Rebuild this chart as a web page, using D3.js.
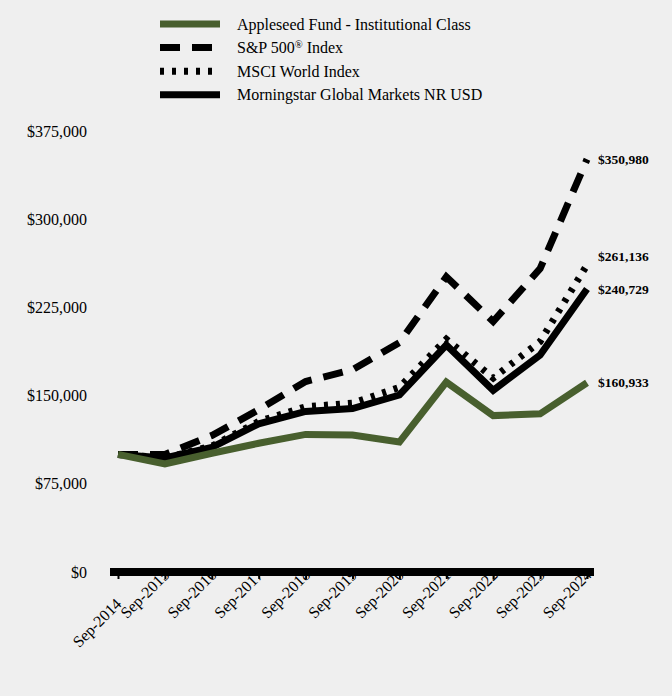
<!DOCTYPE html>
<html>
<head>
<meta charset="utf-8">
<script src="https://cdn.jsdelivr.net/npm/d3@7/dist/d3.min.js"></script>
<style>
  html, body { margin: 0; padding: 0; background: #efefef; }
  svg { display: block; }
  text { font-family: "Liberation Serif", "Times New Roman", serif; fill: #000; }
</style>
</head>
<body>
<svg id="chart" width="672" height="696"></svg>
<script>
const years = ["Sep-2014","Sep-2015","Sep-2016","Sep-2017","Sep-2018","Sep-2019","Sep-2020","Sep-2021","Sep-2022","Sep-2023","Sep-2024"];
const appleseed = [100000, 92000, 101000, 109500, 117000, 116500, 110500, 161500, 133000, 134500, 160933];
const sp500 = [100000, 100000, 116000, 138000, 162000, 172000, 195000, 251000, 213000, 258000, 350980];
const msci = [100000, 97000, 107000, 128000, 140500, 143500, 157000, 198000, 165000, 196000, 261136];
const morningstar = [100000, 97000, 106000, 126000, 136500, 139000, 150500, 193000, 154500, 184500, 240729];
const yTicks = [0, 75000, 150000, 225000, 300000, 375000];
const seriesNames = ["Appleseed Fund - Institutional Class", "S&P 500", "MSCI World Index", "Morningstar Global Markets NR USD"];
const endLabels = ["$160,933", "$350,980", "$261,136", "$240,729"];

const green = "#485f2e";
const series = [
  {name: seriesNames[3], values: morningstar, color: "#000", dash: null, label: endLabels[3], labelDy: 0},
  {name: seriesNames[2], values: msci, color: "#000", dash: "4,8", label: endLabels[2], labelDy: -9},
  {name: seriesNames[1], values: sp500, color: "#000", dash: "20,12", label: endLabels[1], labelDy: 0},
  {name: seriesNames[0], values: appleseed, color: green, dash: null, label: endLabels[0], labelDy: 0}
];

const svg = d3.select("#chart");
const x = d3.scalePoint().domain(years).range([118, 587]);
const y = d3.scaleLinear().domain([0, 375000]).range([572, 131]);

// y axis labels
const yAxis = d3.axisLeft(y).tickValues(yTicks).tickSize(0).tickPadding(0)
  .tickFormat(d => "$" + d3.format(",")(d));
const gy = svg.append("g").attr("transform", "translate(87,0)").call(yAxis);
gy.select(".domain").remove();
gy.selectAll("text").attr("font-size", 16).attr("font-family", "Liberation Serif, serif").attr("dy", "0.32em");

// x axis
const xAxis = d3.axisBottom(x).tickSize(7).tickPadding(0);
const gx = svg.append("g").attr("transform", "translate(0,572)").call(xAxis);
gx.select(".domain").remove();
gx.selectAll(".tick line").attr("stroke", "#000").attr("stroke-width", 2);
gx.selectAll(".tick text")
  .attr("font-size", 16)
  .attr("font-family", "Liberation Serif, serif")
  .attr("text-anchor", "end")
  .attr("dy", null)
  .attr("y", 0)
  .attr("transform", (d, i) => i === 0 ? "translate(4,33) rotate(-45)" : "translate(5,4) rotate(-45)");
// axis bar on top of labels
svg.append("line")
  .attr("x1", x(years[0]) - 8).attr("x2", x(years[years.length - 1]) + 7)
  .attr("y1", y(0)).attr("y2", y(0))
  .attr("stroke", "#000").attr("stroke-width", 8);

// lines
const line = d3.line().x((d, i) => x(years[i])).y(d => y(d));
svg.append("g").selectAll("path").data(series).join("path")
  .attr("d", d => line(d.values))
  .attr("fill", "none")
  .attr("stroke", d => d.color)
  .attr("stroke-width", 7)
  .attr("stroke-linejoin", "miter")
  .attr("stroke-dasharray", d => d.dash);

// end labels
svg.append("g").selectAll("text").data(series).join("text")
  .attr("x", 598)
  .attr("y", d => y(d.values[d.values.length - 1]) + d.labelDy)
  .attr("dy", "0.35em")
  .attr("font-size", 13.5)
  .attr("font-weight", "bold")
  .text(d => d.label);

// legend
const legendItems = [series[3], series[2], series[1], series[0]];
const lg = svg.append("g");
legendItems.forEach((s, i) => {
  const yy = 24 + i * 23.6;
  lg.append("line")
    .attr("x1", 160).attr("x2", 220).attr("y1", yy).attr("y2", yy)
    .attr("stroke", s.color).attr("stroke-width", 7)
    .attr("stroke-dasharray", s.dash);
  const t = lg.append("text").attr("x", 237).attr("y", yy).attr("dy", "0.35em").attr("font-size", 16);
  if (s.name === "S&P 500") {
    t.append("tspan").text("S&P 500");
    t.append("tspan").attr("font-size", 10.5).attr("baseline-shift", "super").text("®");
    t.append("tspan").text(" Index");
  } else {
    t.text(s.name);
  }
});
</script>
</body>
</html>
